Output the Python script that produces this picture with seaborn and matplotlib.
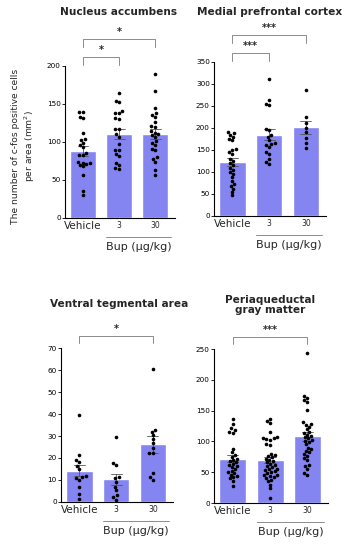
import numpy as np
import pandas as pd
import seaborn as sns
import matplotlib.pyplot as plt
import matplotlib.transforms as mtransforms

groups = ["Vehicle", "3", "30"]

# c-fos positive cells per area
nac_veh = [140, 139, 133, 131, 112, 104, 103, 99, 96, 93, 85, 83, 83, 74, 73, 72, 71, 70, 68, 57, 35, 30]
nac_3 = [164, 154, 152, 141, 138, 138, 131, 130, 117, 117, 110, 107, 98, 90, 89, 84, 82, 73, 70, 66, 65]
nac_30 = [189, 167, 145, 138, 136, 133, 126, 121, 120, 114, 112, 110, 109, 107, 101, 99, 96, 91, 89, 80, 78, 74, 63, 57]

mpfc_veh = [192, 189, 185, 180, 176, 172, 153, 150, 145, 141, 130, 125, 120, 115, 110, 105, 100, 95, 88, 80, 72, 68, 62, 55, 47]
mpfc_3 = [311, 263, 255, 252, 198, 195, 185, 180, 172, 167, 164, 161, 157, 145, 142, 130, 123, 119]
mpfc_30 = [287, 226, 212, 200, 190, 178, 165, 155]

vta_veh = [39.6, 21.3, 19.3, 18.3, 16.3, 15.2, 11.7, 11.4, 10.7, 10.2, 6.8, 3.5, 1.5]
vta_3 = [29.4, 17.8, 16.7, 11.4, 10.7, 9.1, 6.8, 5.3, 3.0, 2.3, 1.1]
vta_30 = [60.4, 32.7, 32.0, 30.4, 28.5, 26.6, 24.4, 22.4, 22.1, 13.2, 11.4, 10.2]

pag_veh = [136, 128, 122, 119, 116, 114, 88, 82, 78, 75, 72, 70, 68, 66, 64, 62, 60, 58, 55, 52,
           50, 48, 46, 44, 42, 40, 36, 28]
pag_3 = [136, 133, 130, 115, 107, 106, 105, 104, 103, 95, 94, 80, 78, 76, 74, 72, 70, 68, 66, 64,
         62, 60, 58, 56, 55, 53, 52, 50, 48, 46, 45, 44, 42, 40, 38, 35, 30, 24, 8]
pag_30 = [243, 173, 170, 167, 164, 151, 131, 129, 127, 124, 120, 116, 113, 111, 109, 107, 105, 103,
          101, 99, 95, 90, 87, 85, 82, 80, 77, 73, 70, 62, 60, 55, 48, 46]

titles = ["Nucleus accumbens", "Medial prefrontal cortex", "Ventral tegmental area",
          "Periaqueductal\ngray matter"]
ymax = [200, 350, 70, 250]
ystep = [50, 50, 10, 50]
# comparisons: (group a, group b, label)
sig = [[(0, 1, "*"), (0, 2, "*")],
       [(0, 1, "***"), (0, 2, "***")],
       [(0, 2, "*")],
       [(0, 2, "***")]]

data = [[nac_veh, nac_3, nac_30], [mpfc_veh, mpfc_3, mpfc_30],
        [vta_veh, vta_3, vta_30], [pag_veh, pag_3, pag_30]]

sns.set_style("white")
plt.rcParams['font.family'] = ['DejaVu Sans']

W, H = 355, 545
fig = plt.figure(figsize=(W / 100, H / 100), dpi=100)

# axes boxes in pixels: left, right, top, bottom
boxes = [(65, 175, 66, 218), (214, 326, 62, 216), (61, 173, 348, 502), (214, 328, 349, 503)]
title_pos = [(118, 12), (270, 12), (119, 304), (270, 305)]
bar_col = "#8585f2"

for k in range(4):
    l, r, t, b = boxes[k]
    ax = fig.add_axes([l / W, 1 - b / H, (r - l) / W, (b - t) / H])
    df = pd.DataFrame({
        "group": sum([[g] * len(v) for g, v in zip(groups, data[k])], []),
        "value": sum(data[k], []),
    })
    sns.barplot(data=df, x="group", y="value", order=groups, color=bar_col,
                width=0.72, errorbar="se", capsize=0.3, saturation=1,
                err_kws={"linewidth": 0.6, "color": "#555555"}, ax=ax)
    sns.swarmplot(data=df, x="group", y="value", order=groups, color="black",
                  size=2.6, ax=ax)
    ax.set_xlim(-0.5, 2.55)
    ax.set_ylim(0, ymax[k])
    ax.set_yticks(np.arange(0, ymax[k] + 1, ystep[k]))
    ax.set_xlabel("")
    ax.set_ylabel("")
    for s in ["top", "right"]:
        ax.spines[s].set_visible(False)
    for s in ["left", "bottom"]:
        ax.spines[s].set_color("black")
        ax.spines[s].set_linewidth(0.8)
    ax.tick_params(axis="y", labelsize=5.2, length=2, width=0.6, pad=1, left=True, colors="black")
    ax.tick_params(axis="x", length=0, pad=2)
    labs = ax.get_xticklabels()
    labs[0].set_fontsize(7.5)
    labs[1].set_fontsize(5.5)
    labs[2].set_fontsize(5.5)

    trans = mtransforms.blended_transform_factory(ax.transData, ax.transAxes)
    # brackets
    h_ax = b - t
    if len(sig[k]) == 2:
        levels = [(t - 9, t - 1), (t - 27, t - 19)]
    else:
        levels = [(t - 12, t - 5)]
    for (a, c, lab), (yl, yt) in zip(sig[k], levels):
        y1 = (b - yl) / h_ax
        y0 = (b - yt) / h_ax
        ax.plot([a, a, c, c], [y0, y1, y1, y0], color="#8c8c8c", lw=0.7,
                transform=trans, clip_on=False)
        ax.text((a + c) / 2, y1 + 2 / h_ax, lab, ha="center", va="bottom",
                fontsize=7, fontweight="bold", transform=trans)

    # Bup group line
    ax.plot([0.65, 2.45], [-19 / h_ax, -19 / h_ax], color="#8c8c8c", lw=0.7,
            transform=trans, clip_on=False)
    ax.text(1.55, -24 / h_ax, "Bup (µg/kg)", ha="center", va="top", fontsize=8,
            transform=trans)

    tx, ty = title_pos[k]
    fig.text(tx / W, 1 - ty / H, titles[k], ha="center", va="center",
             fontsize=7.6, fontweight="bold", linespacing=1.05)

fig.text(24 / W, 1 - 146 / H, "The number of c-fos positive cells\nper area (mm$^2$)",
         rotation=90, ha="center", va="center", fontsize=6.6, linespacing=1.3)

fig.savefig("out.png", dpi=100)
